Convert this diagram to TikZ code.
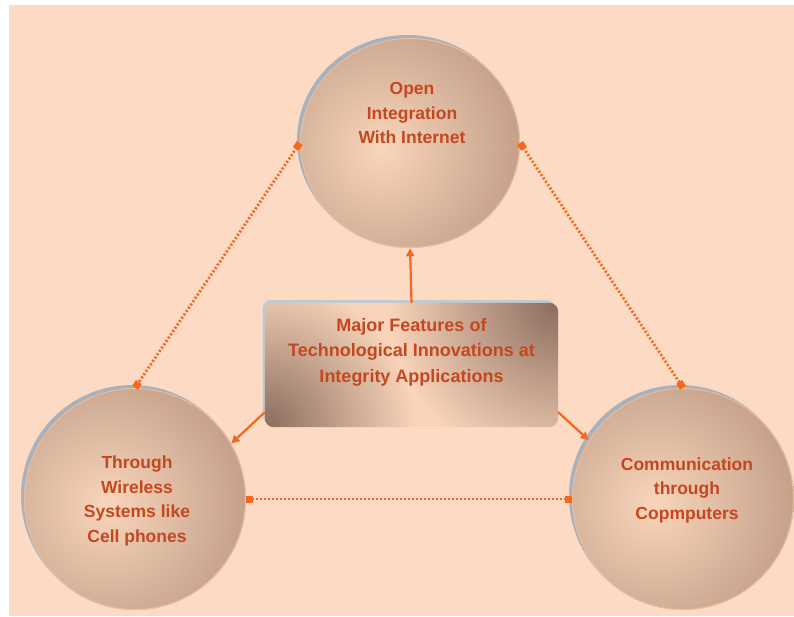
\documentclass[tikz,border=0pt]{standalone}
\usepackage{fontspec}
\setmainfont{Liberation Sans}
\usetikzlibrary{arrows.meta,shapes.geometric}
\definecolor{bgpeach}{HTML}{FDDAC4}
\definecolor{lineor}{HTML}{F26A1E}
\definecolor{txtor}{HTML}{C4481F}
\definecolor{cLight}{HTML}{F9D5BB}
\definecolor{cDark}{HTML}{B08A75}
\definecolor{cRim}{HTML}{E6BDA2}
\definecolor{rLight}{HTML}{F9D4BA}
\definecolor{rDark}{HTML}{8A6C5E}
\definecolor{shadowblue}{HTML}{A7B2BE}
\tikzset{
  ballnode/.style={ellipse, draw=none, inner sep=0pt},
  ballshadow/.style={ellipse, fill=shadowblue, draw=none, inner sep=0pt},
  ballshade/.style={inner color=cLight, outer color=cDark},
  ballrim/.style={draw=cRim, line width=1pt},
  boxshadow/.style={rectangle, rounded corners=9pt, fill=shadowblue!70!white, draw=none, minimum width=293pt, minimum height=124pt},
  boxnode/.style={rectangle, rounded corners=9pt, fill=rLight, draw=none, minimum width=293pt, minimum height=124pt},
  boxshade/.style={inner color=rDark, outer color=rLight},
  lbl/.style={text=txtor, font=\bfseries\fontsize{17.5}{24.5}\selectfont, align=center, inner sep=0pt},
  boxlbl/.style={text=txtor, font=\bfseries\fontsize{18}{25.5}\selectfont, align=center, inner sep=0pt},
  solidarrow/.style={draw=lineor, line width=2.2pt, -{Triangle[length=8pt,width=8pt]}},
  dotlink/.style={draw=lineor, line width=2.8pt, dash pattern=on 2pt off 2pt, {Square[length=7pt,width=7pt]}-{Square[length=7pt,width=7pt]}}
}
\begin{document}
\begin{tikzpicture}[x=1pt,y=-1pt]
\useasboundingbox (0,0) rectangle (794,616);
\fill[white] (0,0) rectangle (794,616);
\fill[bgpeach] (9,5) rectangle (794,616);
% shadows
\node[ballshadow, minimum width=220pt, minimum height=210pt] (topsh) at (407,140) {};
\node[ballshadow, minimum width=222pt, minimum height=222pt] (leftsh) at (132,496) {};
\node[ballshadow, minimum width=222pt, minimum height=222pt] (rightsh) at (680,496) {};
\node[boxshadow] (boxsh) at (409,362) {};
% main shapes
\node[ballnode, minimum width=220pt, minimum height=210pt] (top) at (410,143) {};
\node[ballnode, minimum width=222pt, minimum height=222pt] (left) at (135,499) {};
\node[ballnode, minimum width=222pt, minimum height=222pt] (right) at (683,499) {};
\begin{scope}
  \clip (top.center) ellipse[x radius=110, y radius=105];
  \shade[ballshade] ([xshift=-28pt,yshift=-6pt]top.center) circle[radius=195];
\end{scope}
\begin{scope}
  \clip (left.center) circle[radius=111];
  \shade[ballshade] ([xshift=-28pt,yshift=-6pt]left.center) circle[radius=198];
\end{scope}
\begin{scope}
  \clip (right.center) circle[radius=111];
  \shade[ballshade] ([xshift=-28pt,yshift=-6pt]right.center) circle[radius=198];
\end{scope}
\draw[ballrim] (top.center) ellipse[x radius=109.5, y radius=104.5];
\draw[ballrim] (left.center) circle[radius=110.5];
\draw[ballrim] (right.center) circle[radius=110.5];
\node[boxnode] (box) at (411.5,365) {};
\begin{scope}
  \clip[rounded corners=9pt] (box.south west) rectangle (box.north east);
  \shade[boxshade] (box.north east) circle[radius=170pt];
  \shade[boxshade] (box.south west) circle[radius=150pt];
\end{scope}
% labels
\node[lbl] (toplbl) at (412,113) {Open\\Integration\\With Internet};
\node[lbl] (leftlbl) at (137,501) {Through\\Wireless\\Systems like\\Cell phones};
\node[lbl] (rightlbl) at (687,490) {Communication\\through\\Copmputers};
\node[boxlbl] (boxlbl) at (411.5,352) {Major Features of\\Technological Innovations at\\Integrity Applications};
% connectors
\draw[solidarrow] (box.north) -- (top.south);
\draw[solidarrow] ([yshift=15pt]box.south west) -- (left.30);
\draw[solidarrow] ([yshift=15pt]box.south east) -- (right.148);
\draw[dotlink] (top.180) -- (left.90);
\draw[dotlink] (top.0) -- (right.90);
\draw[dotlink] (left.0) -- (right.180);
\end{tikzpicture}
\end{document}
